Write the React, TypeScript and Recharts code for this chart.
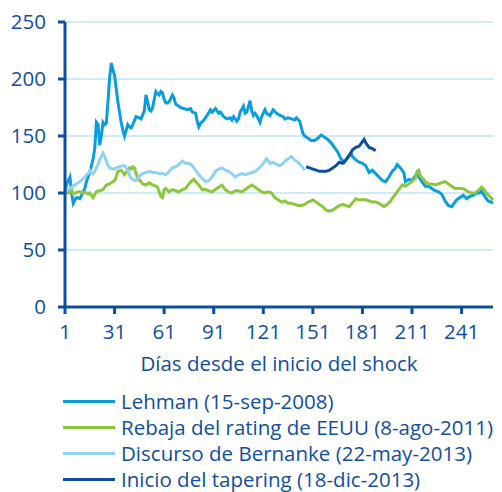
import React from 'react';
import { LineChart, Line, XAxis, YAxis, CartesianGrid } from 'recharts';

// [day, index value] pairs
const lehman: [number, number][] = [
  [1, 102], [2, 108], [4, 114], [5, 100], [6, 91], [7, 94], [8, 96], [10, 95], [11, 98], [13, 104],
  [14, 110], [16, 118], [17, 124], [18, 130], [19, 139], [20, 162], [21, 160], [22, 142], [23, 150], [24, 162],
  [25, 160], [26, 161], [27, 180], [28, 201], [29, 214], [30, 208], [31, 203], [33, 180], [35, 162], [36, 155],
  [37, 150], [38, 155], [39, 160], [40, 158], [41, 157], [42, 160], [44, 167], [46, 166], [47, 165], [49, 172],
  [50, 186], [51, 180], [52, 173], [53, 172], [54, 175], [55, 182], [56, 189], [57, 187], [58, 186], [59, 189],
  [60, 188], [61, 182], [62, 179], [63, 179], [64, 180], [66, 186], [67, 183], [68, 178], [69, 177], [71, 175],
  [73, 174], [75, 173], [77, 174], [78, 171], [80, 170], [81, 163], [82, 158], [83, 161], [85, 164], [87, 168],
  [89, 173], [90, 171], [92, 174], [94, 170], [95, 171], [97, 167], [99, 165], [101, 166], [102, 164], [103, 167],
  [105, 163], [106, 165], [107, 171], [109, 176], [110, 170], [111, 171], [112, 176], [113, 181], [114, 172], [115, 168],
  [116, 170], [117, 168], [119, 162], [120, 167], [122, 173], [123, 170], [125, 168], [127, 173], [129, 170], [131, 168],
  [133, 167], [134, 165], [136, 166], [138, 165], [140, 164], [141, 166], [143, 163], [145, 152], [146, 150], [148, 148],
  [150, 146], [152, 146], [154, 148], [156, 151], [158, 149], [160, 147], [162, 144], [164, 140], [166, 136], [168, 130],
  [170, 127], [172, 131], [174, 135], [175, 132], [177, 129], [179, 127], [181, 126], [183, 124], [185, 118], [187, 120],
  [189, 117], [191, 114], [193, 111], [195, 110], [197, 114], [199, 119], [201, 122], [202, 125], [204, 122], [206, 118],
  [207, 110], [209, 112], [211, 111], [213, 115], [214, 117], [216, 112], [217, 110], [219, 106], [221, 106], [223, 104],
  [225, 102], [227, 101], [229, 99], [231, 93], [233, 89], [235, 88], [237, 92], [238, 94], [240, 96], [242, 98],
  [244, 95], [246, 97], [248, 98], [250, 100], [252, 100], [253, 102], [255, 97], [257, 93], [259, 92], [260, 91],
];

const rebaja: [number, number][] = [
  [1, 101], [3, 100], [5, 103], [6, 99], [7, 100], [9, 101], [10, 101], [12, 100], [13, 101], [15, 99],
  [16, 100], [18, 96], [20, 101], [22, 102], [24, 103], [26, 107], [28, 108], [29, 109], [31, 111], [32, 114],
  [33, 119], [35, 120], [37, 116], [38, 118], [40, 122], [41, 121], [42, 123], [43, 122], [45, 113], [47, 110],
  [48, 108], [50, 107], [52, 109], [54, 107], [56, 106], [57, 105], [59, 97], [60, 96], [61, 103], [62, 104],
  [64, 101], [66, 103], [68, 102], [70, 101], [72, 103], [74, 104], [76, 108], [78, 111], [79, 112], [80, 110],
  [82, 107], [84, 103], [86, 103], [88, 102], [90, 101], [92, 103], [94, 105], [96, 107], [98, 103], [100, 101],
  [102, 100], [104, 102], [106, 102], [108, 101], [110, 103], [112, 105], [114, 107], [116, 105], [118, 103], [120, 101],
  [122, 100], [124, 101], [126, 100], [128, 96], [130, 94], [132, 92], [134, 93], [136, 91], [138, 91], [140, 90],
  [142, 89], [144, 89], [146, 90], [148, 92], [150, 93], [151, 94], [153, 92], [155, 90], [157, 88], [159, 85],
  [161, 84], [163, 85], [165, 87], [167, 89], [169, 90], [171, 89], [173, 88], [174, 90], [176, 93], [177, 95],
  [179, 94], [181, 94], [183, 94], [185, 93], [187, 92], [189, 92], [191, 91], [193, 89], [194, 88], [196, 90],
  [198, 93], [200, 97], [202, 101], [204, 105], [205, 107], [207, 106], [209, 108], [211, 110], [213, 113], [214, 119],
  [215, 120], [216, 115], [218, 112], [219, 110], [221, 108], [223, 108], [225, 107], [227, 108], [229, 109], [231, 110],
  [233, 108], [235, 106], [237, 104], [239, 104], [241, 104], [243, 103], [245, 101], [247, 100], [249, 100], [251, 102],
  [253, 105], [254, 104], [256, 100], [258, 97], [260, 94],
];

const bernanke: [number, number][] = [
  [1, 101], [3, 103], [5, 105], [7, 107], [9, 109], [11, 111], [13, 114], [15, 117], [16, 120], [17, 118],
  [18, 117], [19, 119], [20, 122], [21, 125], [22, 129], [23, 132], [24, 135], [25, 132], [26, 128], [27, 124],
  [28, 122], [30, 121], [32, 122], [34, 123], [36, 124], [37, 124], [38, 122], [39, 120], [40, 116], [41, 113],
  [43, 111], [44, 111], [46, 115], [48, 117], [50, 118], [52, 119], [54, 118], [56, 118], [58, 117], [60, 117],
  [62, 116], [64, 119], [66, 122], [68, 123], [70, 125], [72, 128], [74, 126], [76, 126], [78, 124], [80, 120],
  [82, 116], [84, 113], [86, 110], [88, 111], [90, 114], [92, 119], [94, 121], [96, 122], [98, 120], [100, 119],
  [102, 117], [104, 114], [106, 116], [108, 117], [110, 116], [112, 117], [114, 118], [116, 119], [118, 121], [120, 124],
  [122, 128], [123, 130], [124, 128], [125, 126], [127, 127], [129, 125], [131, 124], [133, 126], [135, 129], [137, 131],
  [138, 132], [140, 129], [142, 127], [144, 124], [146, 120],
];

const tapering: [number, number][] = [
  [147, 123], [149, 122], [151, 121], [153, 120], [155, 119], [157, 119], [159, 119], [161, 120], [163, 122], [165, 124],
  [167, 127], [169, 126], [171, 129], [173, 133], [175, 138], [177, 140], [179, 141], [181, 145], [182, 147], [183, 144],
  [185, 140], [187, 139], [189, 137],
];

const xTicks = [1, 31, 61, 91, 121, 151, 181, 211, 241];
const yTicks = [0, 50, 100, 150, 200, 250];

const series = [
  { name: 'Lehman (15-sep-2008)', color: '#0a9ddd', data: lehman },
  { name: 'Rebaja del rating de EEUU (8-ago-2011)', color: '#8cc63e', data: rebaja },
  { name: 'Discurso de Bernanke (22-may-2013)', color: '#8fd2f2', data: bernanke },
  { name: 'Inicio del tapering (18-dic-2013)', color: '#0c4e9f', data: tapering },
];

const TEXT = '#114e9e';
const AXIS = '#0c4e9f';
const FONT = '"Open Sans", sans-serif';
const FS = 20.5;

const toPoints = (pairs: [number, number][]) => pairs.map(([day, value]) => ({ day, value }));

export default function App() {
  return (
    <div style={{ position: 'absolute', left: 0, top: 0, width: 502, height: 492, background: '#fff', fontFamily: FONT }}>
      <LineChart width={502} height={382} margin={{ top: 22, right: 9, left: 0, bottom: 0 }}>
        <CartesianGrid horizontal vertical={false} stroke="#bde5f6" strokeWidth={1.5} />
        <XAxis
          type="number"
          dataKey="day"
          domain={[1, 260]}
          ticks={xTicks}
          height={75}
          stroke={AXIS}
          strokeWidth={3}
          tickSize={7}
          tickMargin={10}
          tick={{ fill: TEXT, fontSize: FS, fontFamily: FONT }}
          label={{ value: 'Días desde el inicio del shock', position: 'insideBottom', offset: 11, fill: TEXT, fontSize: FS, fontFamily: FONT }}
        />
        <YAxis
          type="number"
          domain={[0, 250]}
          ticks={yTicks}
          width={65}
          stroke={AXIS}
          strokeWidth={3}
          tickSize={7}
          tickMargin={12}
          tick={{ fill: TEXT, fontSize: FS, fontFamily: FONT }}
        />
        {series.map((s) => (
          <Line
            key={s.name}
            data={toPoints(s.data)}
            dataKey="value"
            name={s.name}
            type="linear"
            stroke={s.color}
            strokeWidth={3}
            dot={false}
            isAnimationActive={false}
          />
        ))}
      </LineChart>
      <div style={{ position: 'absolute', left: 63, top: 391 }}>
        {series.map((s) => (
          <div key={s.name} style={{ display: 'flex', alignItems: 'center', height: 20, marginBottom: 6 }}>
            <div style={{ width: 52, height: 3, background: s.color, marginRight: 6 }} />
            <span style={{ color: TEXT, fontSize: FS, lineHeight: '20px', whiteSpace: 'nowrap' }}>{s.name}</span>
          </div>
        ))}
      </div>
    </div>
  );
}
